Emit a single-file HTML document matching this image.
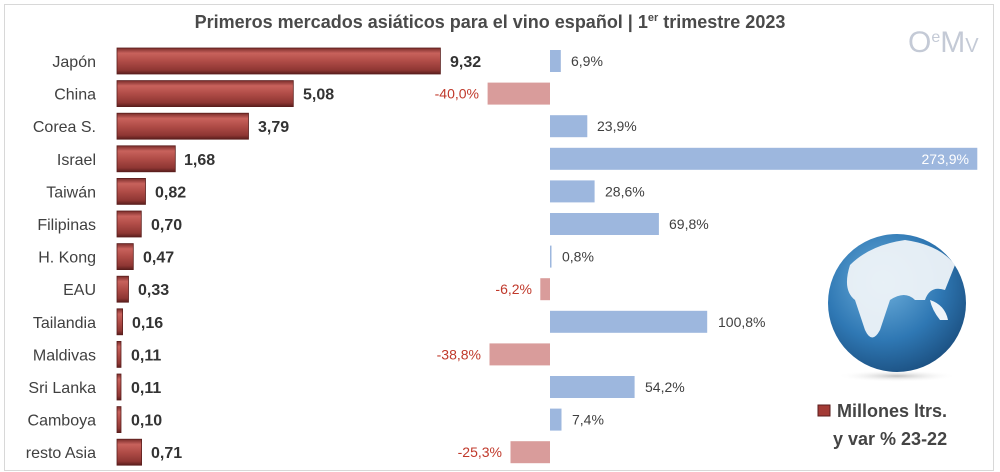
<!DOCTYPE html>
<html><head><meta charset="utf-8"><style>
html,body{margin:0;padding:0;background:#fff;}
svg{display:block;font-family:"Liberation Sans",sans-serif;}
</style></head><body>
<svg width="1000" height="472" viewBox="0 0 1000 472" xmlns="http://www.w3.org/2000/svg">
<defs>
<linearGradient id="rb" x1="0" y1="0" x2="0" y2="1">
<stop offset="0" stop-color="#7a2c2a"/><stop offset="0.2" stop-color="#c8625c"/><stop offset="0.5" stop-color="#b04c47"/><stop offset="0.85" stop-color="#8e3633"/><stop offset="1" stop-color="#5a1e1d"/>
</linearGradient>
<radialGradient id="gl" cx="0.4" cy="0.35" r="0.7">
<stop offset="0" stop-color="#6fb0dc"/><stop offset="0.6" stop-color="#2f78b4"/><stop offset="1" stop-color="#1b4f80"/>
</radialGradient>
<radialGradient id="sh" cx="0.5" cy="0.5" r="0.5"><stop offset="0" stop-color="#999" stop-opacity="0.6"/><stop offset="1" stop-color="#fff" stop-opacity="0"/></radialGradient>
</defs>
<rect x="4.5" y="4.5" width="989" height="466" fill="#fff" stroke="#d8d8d8"/>
<text x="490" y="28" text-anchor="middle" font-size="18" font-weight="bold" fill="#4a4a4a">Primeros mercados asiáticos para el vino español | 1<tspan font-size="11" dy="-7">er</tspan><tspan dy="7"> trimestre 2023</tspan></text>
<text x="908" y="52" font-size="30" fill="#c4cad6">O<tspan font-size="16" dy="-10">e</tspan><tspan dy="10">M</tspan><tspan font-size="20">V</tspan></text>

<g font-size="16" fill="#404040" text-anchor="end">
<text x="96" y="67">Japón</text>
<text x="96" y="99.6">China</text>
<text x="96" y="132.2">Corea S.</text>
<text x="96" y="164.8">Israel</text>
<text x="96" y="197.4">Taiwán</text>
<text x="96" y="230">Filipinas</text>
<text x="96" y="262.6">H. Kong</text>
<text x="96" y="295.2">EAU</text>
<text x="96" y="327.8">Tailandia</text>
<text x="96" y="360.4">Maldivas</text>
<text x="96" y="393">Sri Lanka</text>
<text x="96" y="425.6">Camboya</text>
<text x="96" y="458.2">resto Asia</text>
</g>

<g fill="url(#rb)" stroke="#5a1e1d" stroke-width="0.8">
<rect x="117" y="48" width="323.4" height="26"/>
<rect x="117" y="80.6" width="176.3" height="26"/>
<rect x="117" y="113.2" width="131.5" height="26"/>
<rect x="117" y="145.8" width="58.3" height="26"/>
<rect x="117" y="178.4" width="28.5" height="26"/>
<rect x="117" y="211" width="24.3" height="26"/>
<rect x="117" y="243.6" width="16.3" height="26"/>
<rect x="117" y="276.2" width="11.5" height="26"/>
<rect x="117" y="308.8" width="5.6" height="26"/>
<rect x="117" y="341.4" width="4" height="26"/>
<rect x="117" y="374" width="4" height="26"/>
<rect x="117" y="406.6" width="4" height="26"/>
<rect x="117" y="439.2" width="24.6" height="26"/>
</g>

<g font-size="16" font-weight="bold" fill="#333">
<text x="450" y="67">9,32</text>
<text x="303" y="99.6">5,08</text>
<text x="258" y="132.2">3,79</text>
<text x="184" y="164.8">1,68</text>
<text x="155" y="197.4">0,82</text>
<text x="151" y="230">0,70</text>
<text x="143" y="262.6">0,47</text>
<text x="138" y="295.2">0,33</text>
<text x="132" y="327.8">0,16</text>
<text x="131" y="360.4">0,11</text>
<text x="131" y="393">0,11</text>
<text x="131" y="425.6">0,10</text>
<text x="151" y="458.2">0,71</text>
</g>

<g fill="#9db7de">
<rect x="550" y="50" width="10.8" height="22"/>
<rect x="550" y="115.2" width="37.3" height="22"/>
<rect x="550" y="147.8" width="427.3" height="22"/>
<rect x="550" y="180.4" width="44.6" height="22"/>
<rect x="550" y="213" width="108.9" height="22"/>
<rect x="550" y="245.6" width="1.5" height="22"/>
<rect x="550" y="310.8" width="157.2" height="22"/>
<rect x="550" y="376" width="84.6" height="22"/>
<rect x="550" y="408.6" width="11.5" height="22"/>
</g>
<g fill="#d99c9b">
<rect x="487.6" y="82.6" width="62.4" height="22"/>
<rect x="540.3" y="278.2" width="9.7" height="22"/>
<rect x="489.5" y="343.4" width="60.5" height="22"/>
<rect x="510.5" y="441.2" width="39.5" height="22"/>
</g>
<g font-size="14" fill="#404040">
<text x="571" y="66">6,9%</text>
<text x="597" y="131.2">23,9%</text>
<text x="605" y="196.4">28,6%</text>
<text x="669" y="229">69,8%</text>
<text x="562" y="261.6">0,8%</text>
<text x="718" y="326.8">100,8%</text>
<text x="645" y="392">54,2%</text>
<text x="572" y="424.6">7,4%</text>
<text x="969" y="163.8" text-anchor="end" fill="#fff">273,9%</text>
</g>
<g font-size="14" fill="#c0392b" text-anchor="end">
<text x="479" y="98.6">-40,0%</text>
<text x="532" y="294.2">-6,2%</text>
<text x="481" y="359.4">-38,8%</text>
<text x="502" y="457.2">-25,3%</text>
</g>

<ellipse cx="897" cy="376" rx="60" ry="6" fill="url(#sh)"/>
<circle cx="897" cy="303" r="69" fill="url(#gl)"/>
<path d="M850 265 Q870 245 905 240 Q940 245 955 265 L945 290 Q930 285 925 300 L915 300 Q905 290 890 300 L880 330 Q872 345 865 330 L855 300 Q842 290 850 265Z" fill="#eef3f8" opacity="0.95"/>
<path d="M930 300 Q945 305 948 320 L940 320 Q932 310 930 300Z" fill="#eef3f8"/>
<rect x="818" y="405" width="12" height="11" fill="#a33b36" stroke="#5a1e1d"/>
<text x="837" y="417" font-size="18" font-weight="bold" fill="#444">Millones ltrs.</text>
<text x="833" y="445" font-size="18" font-weight="bold" fill="#444">y var % 23-22</text>
</svg>
</body></html>
